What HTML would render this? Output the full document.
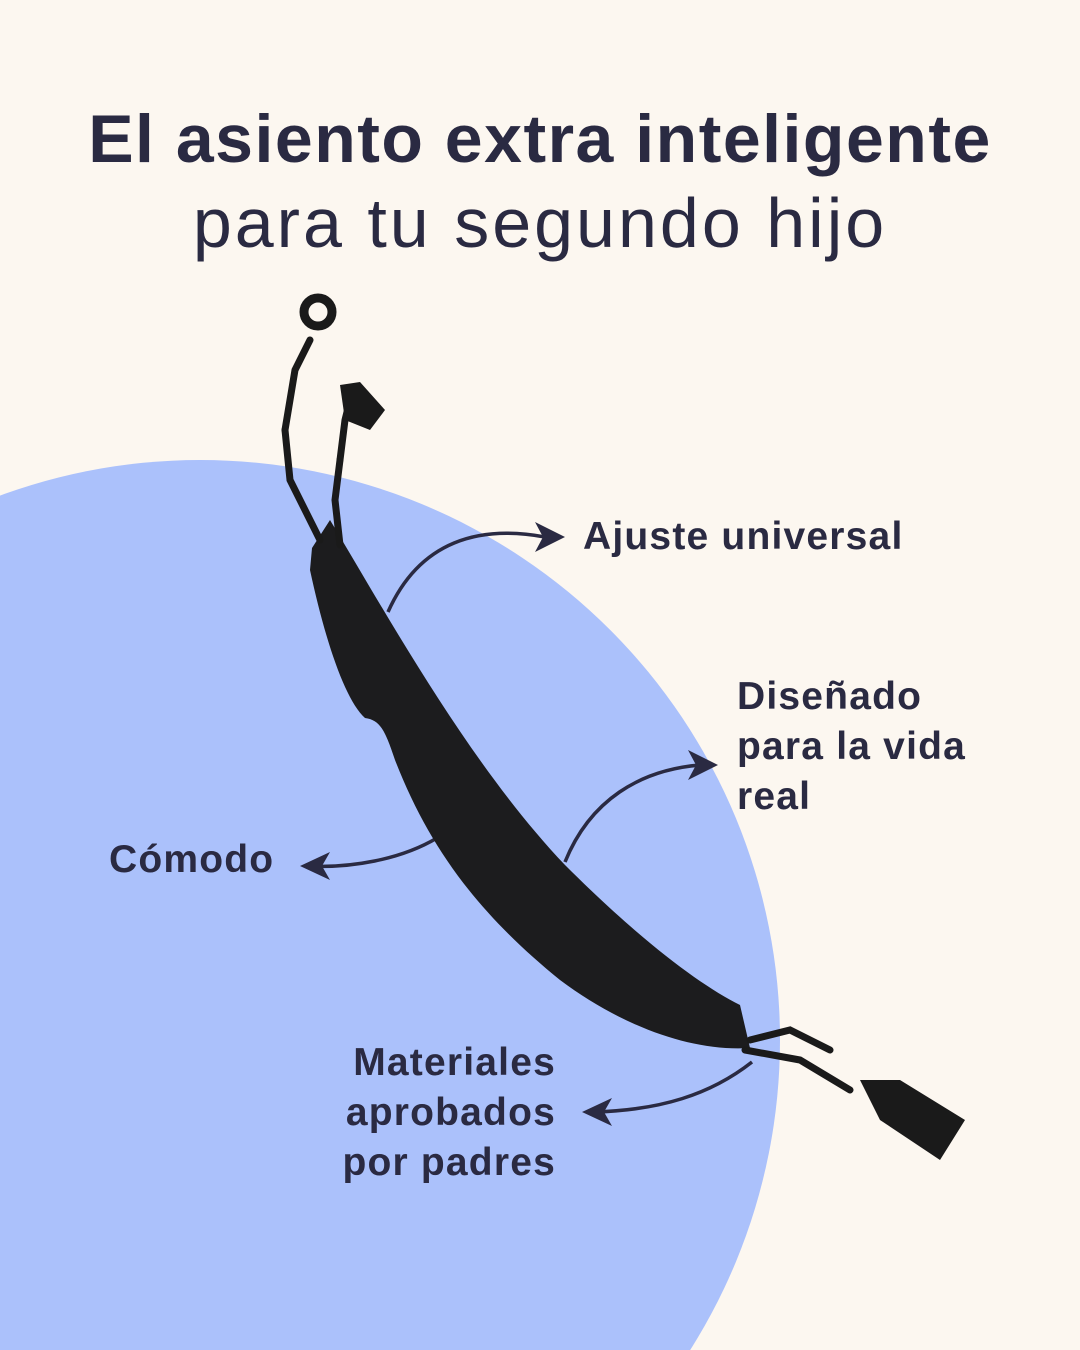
<!DOCTYPE html>
<html><head><meta charset="utf-8"><style>
html,body{margin:0;padding:0}
body{width:1080px;height:1350px;background:#fcf7f0;position:relative;overflow:hidden;font-family:"Liberation Sans",sans-serif;color:#2a2a42}
.t{position:absolute;left:0;width:1080px;text-align:center;line-height:1;white-space:nowrap}
.l{position:absolute;font-weight:bold;font-size:39px;line-height:50px;letter-spacing:1.2px;color:#2a2a42;white-space:nowrap}
</style></head><body>
<svg width="1080" height="1350" style="position:absolute;left:0;top:0">
<circle cx="200" cy="1040" r="580" fill="#abc1fb"/>
<g fill="none" stroke="#2a2a42" stroke-width="3.5">
<path d="M388,612 C420,540 480,525 545,537"/>
<path d="M565,862 C590,800 640,770 700,765"/>
<path d="M437,838 C400,860 350,868 310,866"/>
<path d="M752,1062 C710,1095 660,1110 595,1112"/>
</g>
<g fill="#2a2a42">
<path d="M565,537 L535,522 L543,537 L535,552z"/>
<path d="M718,765 L688,750 L696,765 L688,780z"/>
<path d="M300,866 L330,852 L322,866 L330,880z"/>
<path d="M582,1112 L612,1098 L604,1112 L612,1126z"/>
</g>
<path d="M312,548 L330,520 C390,620 470,765 565,865 C640,940 700,985 740,1005 L750,1048 C690,1052 620,1025 560,980 C480,915 430,850 395,760 C385,730 380,720 365,718 C345,700 325,640 310,570 Z" fill="#1c1c1e"/>
<g fill="none" stroke="#1a1a1a" stroke-width="7" stroke-linecap="round">
<path d="M320,540 L290,480 L285,430"/>
<path d="M340,545 L335,500 L340,460"/>
<path d="M750,1040 L790,1030 L830,1050"/>
<path d="M745,1050 L800,1060 L850,1090"/>
<path d="M285,430 L295,370 L310,340"/>
<path d="M340,460 L345,420 L350,400"/>
</g>
<circle cx="318" cy="312" r="14" fill="none" stroke="#1a1a1a" stroke-width="9"/>
<path d="M340,385 L360,382 L385,410 L370,430 L345,420z" fill="#1a1a1a"/>
<path d="M860,1080 L900,1080 L965,1120 L940,1160 L880,1120z" fill="#1a1a1a"/>
</svg>
<div class="t" style="top:105px;font-weight:bold;font-size:68px;letter-spacing:1.5px">El asiento extra inteligente</div>
<div class="t" style="top:188px;font-weight:normal;font-size:70px;letter-spacing:3px">para tu segundo hijo</div>
<div class="l" style="left:583px;top:512px">Ajuste universal</div>
<div class="l" style="left:737px;top:672px">Diseñado<br>para la vida<br>real</div>
<div class="l" style="left:109px;top:835px">Cómodo</div>
<div class="l" style="left:256px;top:1038px;width:300px;text-align:right">Materiales<br>aprobados<br>por padres</div>
</body></html>
